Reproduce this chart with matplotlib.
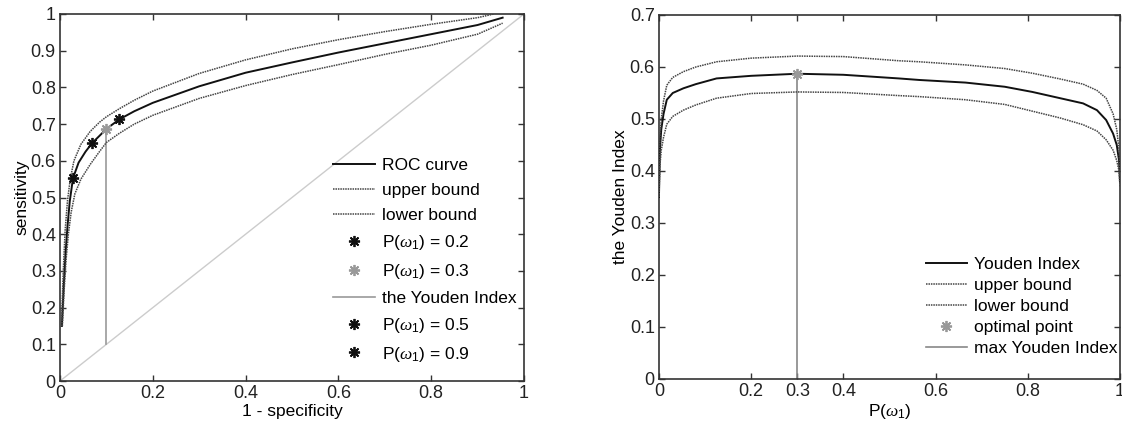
import matplotlib
matplotlib.use("Agg")
import matplotlib.pyplot as plt

plt.rcParams['font.family'] = ['Liberation Sans', 'DejaVu Sans']
plt.rcParams['mathtext.fontset'] = 'custom'
plt.rcParams['mathtext.rm'] = 'Liberation Sans'
plt.rcParams['mathtext.it'] = 'Liberation Serif:italic'
plt.rcParams['font.size'] = 12.5

# ---------------- left panel data (ROC) ----------------
roc_fpr = [0.004, 0.008, 0.012, 0.016, 0.021, 0.028, 0.04, 0.055, 0.069, 0.085, 0.1,
           0.128, 0.16, 0.2, 0.3, 0.4, 0.5, 0.6, 0.7, 0.8, 0.9, 0.954]
roc_tpr = [0.15, 0.26, 0.35, 0.42, 0.49, 0.553, 0.595, 0.625, 0.648, 0.668, 0.687,
           0.713, 0.735, 0.758, 0.803, 0.84, 0.868, 0.895, 0.92, 0.945, 0.97, 0.99]
up_fpr = [0.003, 0.007, 0.011, 0.016, 0.022, 0.03, 0.045, 0.065, 0.085, 0.1, 0.128,
          0.16, 0.2, 0.3, 0.4, 0.5, 0.6, 0.7, 0.8, 0.9, 0.935]
up_tpr = [0.15, 0.3, 0.41, 0.49, 0.55, 0.6, 0.645, 0.68, 0.705, 0.72, 0.742,
          0.765, 0.79, 0.838, 0.875, 0.905, 0.93, 0.952, 0.972, 0.99, 1.0]
lo_fpr = [0.005, 0.009, 0.013, 0.018, 0.024, 0.032, 0.045, 0.065, 0.085, 0.1, 0.128,
          0.16, 0.2, 0.3, 0.4, 0.5, 0.6, 0.7, 0.8, 0.9, 0.954]
lo_tpr = [0.15, 0.25, 0.33, 0.40, 0.46, 0.51, 0.55, 0.59, 0.625, 0.65, 0.675,
          0.70, 0.724, 0.77, 0.805, 0.835, 0.862, 0.89, 0.915, 0.945, 0.975]
pt02 = (0.128, 0.713)
pt03 = (0.1, 0.687)
pt05 = (0.069, 0.648)
pt09 = (0.028, 0.553)
youden_x = 0.1
chance = [0, 1]

# ---------------- right panel data (Youden index) ----------------
prior = [0.0, 0.002, 0.005, 0.01, 0.017, 0.03, 0.053, 0.08, 0.125, 0.2, 0.3, 0.4,
         0.52, 0.565, 0.665, 0.75, 0.81, 0.87, 0.92, 0.95, 0.97, 0.985, 0.993, 0.998, 1.0]
yi_mid = [0.35, 0.44, 0.48, 0.51, 0.537, 0.55, 0.559, 0.567, 0.578, 0.583, 0.587, 0.585,
          0.578, 0.575, 0.57, 0.562, 0.552, 0.54, 0.53, 0.517, 0.498, 0.472, 0.45, 0.42, 0.38]
yi_up = [0.35, 0.46, 0.50, 0.535, 0.565, 0.58, 0.591, 0.60, 0.61, 0.617, 0.621, 0.62,
         0.612, 0.61, 0.604, 0.597, 0.588, 0.577, 0.567, 0.555, 0.54, 0.51, 0.48, 0.44, 0.39]
yi_lo = [0.35, 0.41, 0.44, 0.465, 0.49, 0.505, 0.517, 0.527, 0.54, 0.549, 0.552, 0.551,
         0.545, 0.543, 0.537, 0.528, 0.515, 0.502, 0.489, 0.477, 0.46, 0.44, 0.42, 0.40, 0.37]
opt_p = 0.3
opt_j = 0.587

fig = plt.figure(figsize=(11.22, 4.28), dpi=100)
axL = fig.add_axes([0.0535, 0.1098, 0.4135, 0.8575])
axR = fig.add_axes([0.5873, 0.1145, 0.4109, 0.8505])

star = (8, 2, 0)
dot = (0, (1, 0.6))
spine_c = '#333333'

# left
axL.plot(chance, chance, color='#cccccc', lw=1.0, zorder=1)
axL.plot(roc_fpr, roc_tpr, color='#111111', lw=1.4, label='ROC curve', zorder=3)
axL.plot(up_fpr, up_tpr, color='#444444', lw=1.1, ls=dot, label='upper bound', zorder=3)
axL.plot(lo_fpr, lo_tpr, color='#444444', lw=1.1, ls=dot, label='lower bound', zorder=3)
axL.plot([pt02[0]], [pt02[1]], ls='none', marker=star, ms=8, mew=1.3, color='#111111',
         label=r'P($\omega_1$) = 0.2', zorder=4)
axL.plot([pt03[0]], [pt03[1]], ls='none', marker=star, ms=8, mew=1.3, color='#999999',
         label=r'P($\omega_1$) = 0.3', zorder=4)
axL.plot([youden_x, youden_x], [youden_x, pt03[1]], color='#999999', lw=1.2,
         label='the Youden Index', zorder=2)
axL.plot([pt05[0]], [pt05[1]], ls='none', marker=star, ms=8, mew=1.3, color='#111111',
         label=r'P($\omega_1$) = 0.5', zorder=4)
axL.plot([pt09[0]], [pt09[1]], ls='none', marker=star, ms=8, mew=1.3, color='#111111',
         label=r'P($\omega_1$) = 0.9', zorder=4)
axL.set_xlim(0, 1)
axL.set_ylim(0, 1)
axL.set_xticks([0, 0.2, 0.4, 0.6, 0.8, 1])
axL.set_xticklabels(['0', '0.2', '0.4', '0.6', '0.8', '1'])
axL.set_yticks([i / 10 for i in range(11)])
axL.set_yticklabels(['0'] + ['%.1f' % (i / 10) for i in range(1, 10)] + ['1'])
axL.set_xlabel('1 - specificity', labelpad=1)
axL.set_ylabel('sensitivity', labelpad=1)
axL.legend(loc='lower right', frameon=False, numpoints=1, handlelength=2.4,
           handletextpad=0.4, labelspacing=0.57, bbox_to_anchor=(1.018, 0.005), fontsize=12.5)

# right
axR.plot(prior, yi_mid, color='#111111', lw=1.4, label='Youden Index', zorder=3)
axR.plot(prior, yi_up, color='#444444', lw=1.1, ls=dot, label='upper bound', zorder=3)
axR.plot(prior, yi_lo, color='#444444', lw=1.1, ls=dot, label='lower bound', zorder=3)
axR.plot([opt_p], [opt_j], ls='none', marker=star, ms=8, mew=1.3, color='#999999',
         label='optimal point', zorder=4)
axR.plot([opt_p, opt_p], [0, opt_j], color='#888888', lw=1.2,
         label='max Youden Index', zorder=2)
axR.set_xlim(0, 1)
axR.set_ylim(0, 0.7)
axR.set_xticks([0, 0.2, 0.3, 0.4, 0.6, 0.8, 1])
axR.set_xticklabels(['0', '0.2', '0.3', '0.4', '0.6', '0.8', '1'])
axR.set_yticks([i / 10 for i in range(8)])
axR.set_yticklabels(['0'] + ['%.1f' % (i / 10) for i in range(1, 8)])
axR.set_xlabel(r'P($\omega_1$)', labelpad=1)
axR.set_ylabel('the Youden Index', labelpad=1)
axR.legend(loc='lower right', frameon=False, numpoints=1, handlelength=2.4,
           handletextpad=0.4, labelspacing=0.34, bbox_to_anchor=(1.029, 0.02), fontsize=12.5)

for ax in (axL, axR):
    for s in ax.spines.values():
        s.set_color(spine_c)
        s.set_linewidth(1.2)
    ax.tick_params(direction='in', length=4, width=1, color=spine_c, top=True, right=True,
                   labelsize=13, pad=3, labelcolor='#222222')

fig.savefig('out.png', dpi=100)
